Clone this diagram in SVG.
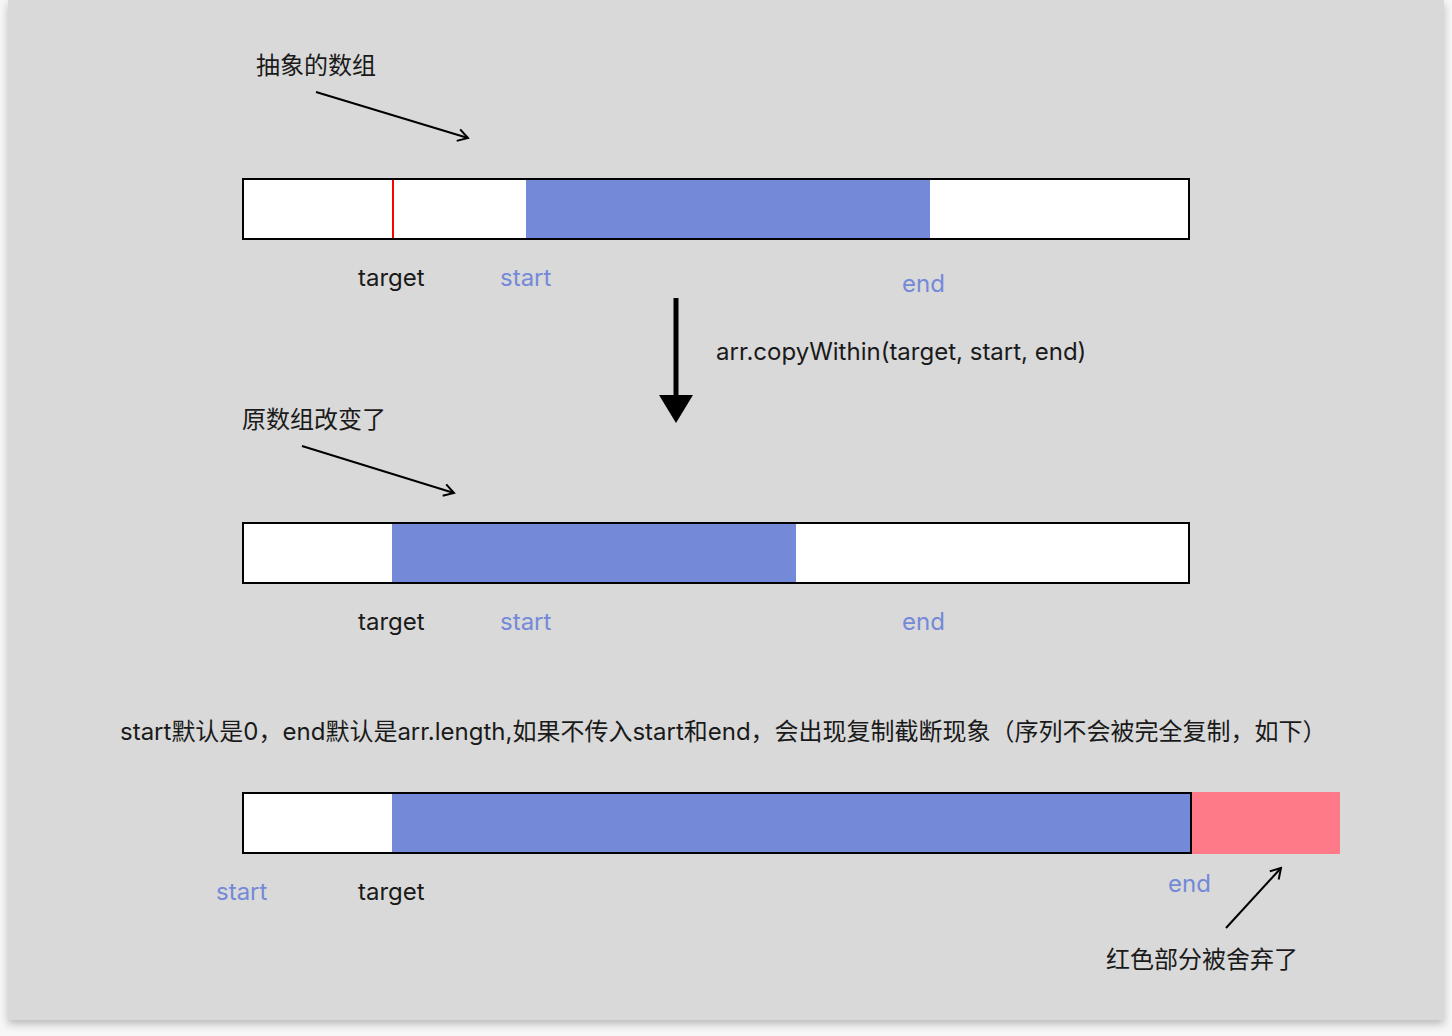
<svg xmlns="http://www.w3.org/2000/svg" width="1452" height="1036" viewBox="0 0 1452 1036">
<defs>
<style>
.t{font-family:"Inter","Noto Sans CJK SC",sans-serif;font-size:24px;fill:#1a1a1a}
.b{fill:#7489d8}
.bar{fill:none;stroke:#000;stroke-width:2}
.ln{fill:none;stroke:#000;stroke-width:2}
</style>
<filter id="sh" x="-5%" y="-5%" width="110%" height="110%">
<feDropShadow dx="0" dy="4" stdDeviation="4" flood-color="#000" flood-opacity="0.25"/>
</filter>
<marker id="oa" markerWidth="14" markerHeight="14" refX="12" refY="7" orient="auto" markerUnits="userSpaceOnUse">
<path d="M2,1 L12,7 L2,13" fill="none" stroke="#000" stroke-width="2"/>
</marker>
</defs>
<rect width="1452" height="1036" fill="#f7f7f7"/>
<rect x="8" y="0" width="1436" height="1020" fill="#d9d9d9" filter="url(#sh)"/>

<g id="bar1">
<rect x="243" y="179" width="946" height="60" fill="#fff"/>
<rect class="b" x="526" y="180" width="404" height="58"/>
<line x1="393" y1="180" x2="393" y2="238" stroke="#f00" stroke-width="2"/>
<rect class="bar" x="243" y="179" width="946" height="60"/>
</g>
<g id="bar2">
<rect x="243" y="523" width="946" height="60" fill="#fff"/>
<rect class="b" x="392" y="524" width="404" height="58"/>
<rect class="bar" x="243" y="523" width="946" height="60"/>
</g>
<g id="bar3">
<rect x="1191" y="792" width="149" height="62" fill="#ff7a88"/>
<rect x="243" y="793" width="948" height="60" fill="#fff"/>
<rect class="b" x="392" y="794" width="799" height="58"/>
<rect class="bar" x="243" y="793" width="948" height="60"/>
</g>

<g id="labels">
<text class="t" x="256" y="74">抽象的数组</text>
<text class="t" x="358" y="286">target</text>
<text class="t" x="500" y="286" style="fill:#7489d8">start</text>
<text class="t" x="902" y="292" style="fill:#7489d8">end</text>
<text class="t" x="716" y="360">arr.copyWithin(target, start, end)</text>
<text class="t" x="242" y="428">原数组改变了</text>
<text class="t" x="358" y="630">target</text>
<text class="t" x="500" y="630" style="fill:#7489d8">start</text>
<text class="t" x="902" y="630" style="fill:#7489d8">end</text>
<text class="t" x="120" y="740">start默认是0，end默认是arr.length,如果不传入start和end，会出现复制截断现象（序列不会被完全复制，如下）</text>
<text class="t" x="216" y="900" style="fill:#7489d8">start</text>
<text class="t" x="358" y="900">target</text>
<text class="t" x="1168" y="892" style="fill:#7489d8">end</text>
<text class="t" x="1106" y="968">红色部分被舍弃了</text>
</g>

<g id="connectors">
<line class="ln" x1="316" y1="92" x2="468" y2="138" marker-end="url(#oa)"/>
<line class="ln" x1="302" y1="446" x2="454" y2="493" marker-end="url(#oa)"/>
<line class="ln" x1="1226" y1="928" x2="1281" y2="868" marker-end="url(#oa)"/>
<line x1="676" y1="298" x2="676" y2="398" stroke="#000" stroke-width="5"/>
<polygon points="659,395 693,395 676,423" fill="#000"/>
</g>
</svg>
